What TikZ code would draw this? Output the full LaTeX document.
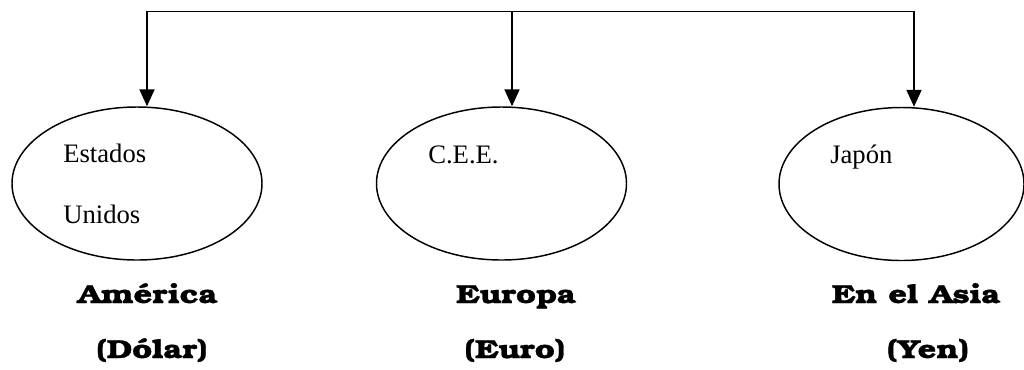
\documentclass[tikz,border=0pt]{standalone}
\usepackage{fontspec}
\setmainfont{Liberation Serif}
\newfontfamily\boldfont[BoldFeatures={FakeStretch=1.25,FakeBold=1.2}]{TeX Gyre Bonum}
\usepackage{tikz}
\usetikzlibrary{arrows.meta,shapes,positioning}

\tikzset{
  region/.style={draw, ellipse, line width=1.1pt, minimum width=187.5pt, minimum height=114.75pt, inner sep=0pt},
  country/.style={anchor=base west, inner sep=0pt, font=\fontsize{20}{24}\selectfont},
  zone/.style={anchor=base, inner sep=0pt, font=\boldfont\bfseries\fontsize{19.5}{23}\selectfont},
  branch/.style={line width=1.5pt, -{Triangle[width=11.25pt,length=12.75pt]}}
}

\begin{document}
\begin{tikzpicture}[x=0.75pt,y=-0.75pt]
\useasboundingbox (0,0) rectangle (1024,369);

\node [region] (ame) at (137,183.5) {};
\node [region] (eur) at (501.5,183.5) {};
\node [region, minimum width=183.75pt] (asi) at (901.5,184) {};

\coordinate (t1) at (147,11);
\coordinate (t2) at (512,11);
\coordinate (t3) at (914,11);

\draw [line width=0.75pt] (t1) -- (t3);
\draw [branch] (t1) -- (t1 |- ame.north);
\draw [branch] (t2) -- (t2 |- eur.north);
\draw [branch] (t3) -- (t3 |- asi.north);

\node [country] (est) at (63,162) {Estados};
\node [country] (uni) at (63,223) {Unidos};
\node [country] (cee) at (428,163) {C.E.E.};
\node [country] (jap) at (830,163) {Japón};

\node [zone] (lame) at (147.5,303) {América};
\node [zone] (dol) at (152,358) {(Dólar)};
\node [zone] (leur) at (516,303) {Europa};
\node [zone] (euro) at (515,358) {(Euro)};
\node [zone] (lasi) at (916,303) {En el Asia};
\node [zone] (yen) at (928,358) {(Yen)};
\end{tikzpicture}
\end{document}
